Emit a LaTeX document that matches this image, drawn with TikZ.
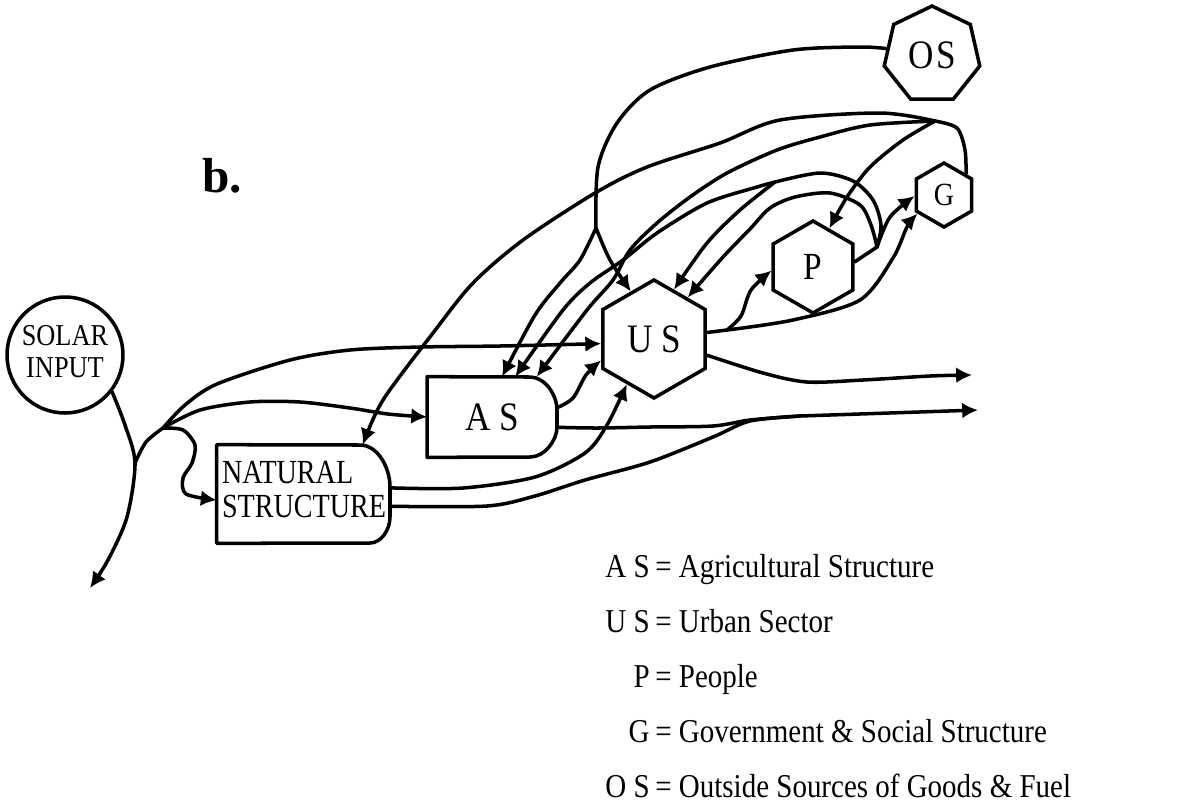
\documentclass[tikz,border=0pt]{standalone}
\usepackage{fontspec}
\usepackage{graphicx}
\setmainfont{Liberation Serif}
\usetikzlibrary{arrows.meta,shapes.geometric,positioning}
\newcommand{\tallbox}[2][1.15]{\scalebox{1}[#1]{#2}}

\begin{document}
\begin{tikzpicture}[x=0.02cm,y=-0.02cm,
  flow/.style={line width=2pt,line cap=round,line join=round},
  feed/.style={flow,-{Latex[length=9pt,width=9pt]}},
  unit/.style={draw,line width=2pt,inner sep=0pt},
  hexunit/.style={unit,regular polygon,regular polygon sides=6,shape border rotate=30},
  lbl/.style={font=\fontsize{16.5}{20}\selectfont},
  big/.style={font=\fontsize{20}{24}\selectfont}]

\useasboundingbox (0,0) rectangle (1190,806);

% storages and sources
\node[unit,circle,minimum size=2.32cm,font=\fontsize{15}{15.7}\selectfont] (solar) at (65,355) {\tallbox{\begin{tabular}{@{}c@{}}SOLAR\\INPUT\end{tabular}}};
\node[minimum width=3.48cm,minimum height=1.96cm,inner sep=0pt,font=\fontsize{16}{16}\selectfont] (ns) at (304,494) {\tallbox[1.2]{\begin{tabular}{@{}l@{}}NATURAL\\STRUCTURE\end{tabular}}};
\draw[flow] (ns.north west) -- (360,445) .. controls (378,445) and (390,468) .. (390,487) -- (390,517) .. controls (390,530) and (381,543) .. (370,543) -- (ns.south west) -- cycle;
\node[minimum width=2.58cm,minimum height=1.6cm,big] (as) at (492,417) {\tallbox{A S}\hspace{10pt}};
\draw[flow] (as.north west) -- (530,377) .. controls (545,377) and (557,395) .. (557,410) -- (557,427) .. controls (557,440) and (545,457) .. (530,457) -- (as.south west) -- cycle;
\node[hexunit,minimum size=2.36cm,big] (us) at (654,339) {\tallbox{U S}};
\node[hexunit,minimum size=1.84cm,font=\fontsize{19}{22}\selectfont] (p) at (813,267) {\tallbox{P}};
\node[hexunit,minimum size=1.28cm,font=\fontsize{16}{18}\selectfont] (g) at (944,195) {\tallbox{G}};
\node[unit,regular polygon,regular polygon sides=7,minimum size=1.96cm,big] (os) at (932,55) {\tallbox{O\kern1.5pt S}};

\node[font=\bfseries\fontsize{28}{30}\selectfont] (tag) at (222,176) {b.};

% junctions and free ends
\coordinate (sink) at (90,588);
\coordinate (j1) at (135,463);
\coordinate (j2) at (163,428);
\coordinate (j3) at (727,330);
\coordinate (j4) at (596,228);
\coordinate (j5) at (877,247);
\coordinate (j6) at (775,182);
\coordinate (hub) at (935,121);
\coordinate (mix) at (800,416);
\coordinate (out1) at (972,375);
\coordinate (out2) at (978,410);

% sun
\draw[feed] plot[smooth] coordinates {(solar.-38) (125,425) (j1) (127,517) (108,560) (sink)};
\draw[flow] plot[smooth] coordinates {(j1) (146,442) (j2)};
\draw[feed] plot[smooth] coordinates {(j2) (185,405) (217,384) (290,360) (350,350) (420,347) (500,346) (us.185)};
\draw[feed] plot[smooth] coordinates {(j2) (200,410) (250,402) (300,402) (350,408) (388,414) (as.west)};
\draw[feed] plot[smooth] coordinates {(j2) (183,430) (195,445) (192,463) (183,478) (186,494) (ns.184)};

% natural and agricultural flows
\draw[feed] plot[smooth] coordinates {(ns.4) (463,488) (535,477) (585,453) (607,425) (us.239)};
\draw[flow] plot[smooth] coordinates {(ns.-8) (487,506) (535,496) (585,480) (650,462) (713,437) (750,421) (mix)};
\draw[flow] plot[smooth] coordinates {(as.-9) (597,428) (650,427) (713,426) (750,420) (mix)};
\draw[feed] (mix) -- (out2);
\draw[feed] plot[smooth] coordinates {(as.8) (573,398) (586,375) (us.202)};

% urban sector
\draw[feed] plot[smooth] coordinates {(us.-17) (763,373) (807,382) (863,380) (930,376) (out1)};
\draw[flow] (us.7) -- (j3);
\draw[feed] plot[smooth] coordinates {(j3) (741,316) (751,290) (p.185)};
\draw[feed] plot[smooth] coordinates {(j3) (793,320) (860,300) (893,258) (907,227) (g.215)};
\draw[flow] plot[smooth] coordinates {(p.7) (j5)};
\draw[feed] plot[smooth] coordinates {(j5) (890,217) (g.182)};

% outside sources
\draw[flow] plot[smooth] coordinates {(os.172) (860,47) (793,50) (710,67) (650,90) (617,123) (598,167) (j4)};
\draw[feed] plot[smooth] coordinates {(j4) (610,260) (us.116)};
\draw[feed] plot[smooth] coordinates {(j4) (580,260) (560,283) (535,315) (as.76)};

% government feedbacks
\draw[flow] plot[smooth] coordinates {(g.44) (965,150) (957,128) (hub)};
\draw[feed] plot[smooth] coordinates {(hub) (903,140) (870,167) (847,197) (p.67)};
\draw[feed] plot[smooth] coordinates {(hub) (880,113) (780,120) (720,143) (647,167) (595,193) (523,240) (473,283) (433,333) (383,400) (ns.40)};
\draw[feed] plot[smooth] coordinates {(hub) (870,125) (820,137) (777,150) (727,173) (690,197) (657,223) (630,250) (613,280) (587,310) (as.42)};

% people feedbacks
\draw[flow] plot[smooth] coordinates {(j5) (881,225) (873,200) (853,181) (820,173) (j6)};
\draw[feed] plot[smooth] coordinates {(j6) (757,187) (707,203) (657,233) (623,260) (590,283) (563,310) (as.60)};
\draw[feed] plot[smooth] coordinates {(j6) (740,210) (707,243) (us.68)};
\draw[feed] plot[smooth] coordinates {(j5) (871,225) (860,205) (830,193) (795,197) (770,208) (750,229) (723,257) (us.51)};

% legend
\foreach \abbr/\desc [count=\i] in {A S/Agricultural Structure, U S/Urban Sector, P/People, G/Government \& Social Structure, O S/Outside Sources of Goods \& Fuel}{
  \node[lbl,anchor=base east,inner sep=0pt] (key\i) at (650,{577+55.2*(\i-1)}) {\tallbox{\abbr}};
  \node[lbl,anchor=base west,inner sep=0pt] (def\i) at (655,{577+55.2*(\i-1)}) {\tallbox{= \desc}};
}
\end{tikzpicture}
\end{document}
